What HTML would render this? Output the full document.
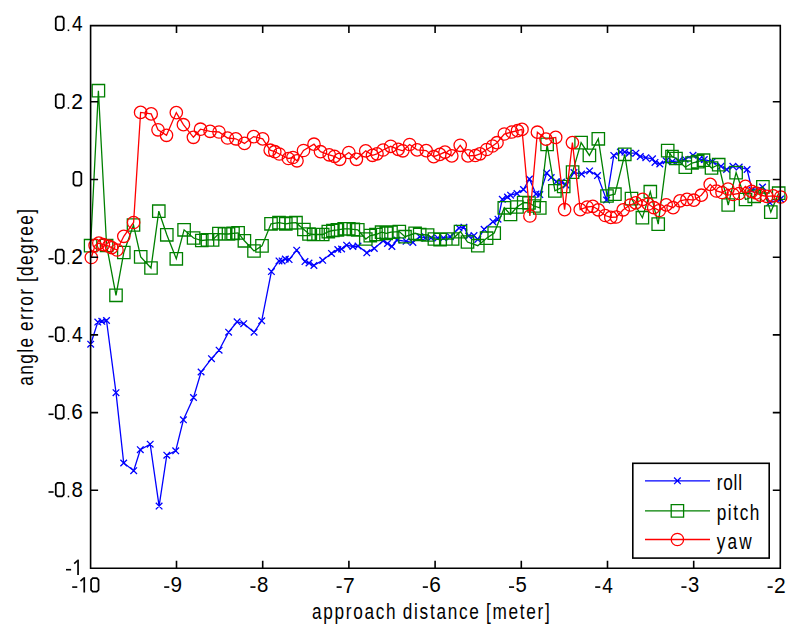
<!DOCTYPE html><html><head><meta charset="utf-8"><style>html,body{margin:0;padding:0;background:#fff;width:794px;height:633px;overflow:hidden}svg{position:absolute;left:0;top:0}text{font-family:"Liberation Sans",sans-serif;fill:#000}</style></head><body>
<svg width="794" height="633" viewBox="0 0 794 633">
<rect x="0" y="0" width="794" height="633" fill="#fff"/>
<polyline fill="none" stroke="#0000ff" stroke-width="1.30" stroke-linejoin="miter" points="90.7,344.2 97.8,322.1 101.8,321.3 106.5,320.5 116.0,392.7 123.7,463.0 133.7,470.7 140.3,449.7 150.2,444.2 159.1,506.1 166.8,455.2 175.7,450.8 183.4,419.8 193.5,397.5 201.1,372.0 211.5,358.7 219.1,350.2 228.6,332.2 237.1,321.8 243.7,323.7 254.1,332.2 261.7,320.8 271.4,271.6 279.0,260.9 282.1,260.9 285.3,259.0 289.1,259.6 296.7,250.2 305.0,261.6 309.0,263.0 313.9,265.4 322.7,260.3 331.5,253.4 337.8,249.5 341.6,249.0 346.6,245.2 352.9,246.5 358.0,246.0 366.8,252.8 374.3,248.4 383.1,240.8 387.5,243.5 391.9,246.5 397.0,240.0 406.1,241.3 412.9,242.4 419.7,236.7 425.4,237.9 431.0,237.9 437.8,237.9 443.5,237.9 450.3,236.7 459.0,228.0 463.9,227.2 468.6,236.0 474.0,235.6 477.8,239.4 484.1,229.3 492.9,221.7 498.0,219.2 502.3,199.3 507.5,197.0 510.6,195.2 517.0,193.5 523.5,189.5 529.4,179.0 536.0,194.0 539.8,194.6 546.7,173.0 551.2,177.6 556.5,181.7 561.5,182.0 566.0,185.0 574.0,172.5 581.6,174.0 589.6,170.9 597.5,175.6 606.6,200.0 613.8,155.4 620.4,152.1 624.8,152.1 629.2,153.2 635.9,153.2 640.3,156.5 645.8,157.7 652.5,158.8 655.0,162.4 659.8,164.0 666.1,160.8 672.4,161.6 678.8,160.8 685.1,159.2 693.0,155.3 699.3,159.2 704.3,159.6 712.4,161.6 721.0,166.3 726.6,169.5 732.9,166.3 739.2,167.1 747.1,169.5 752.0,190.0 762.5,187.0 769.7,202.6 780.5,199.0"/>
<path fill="none" stroke="#0000ff" stroke-width="1.30" d="M87.4 340.9L94.0 347.5M87.4 347.5L94.0 340.9M94.5 318.8L101.1 325.4M94.5 325.4L101.1 318.8M98.5 318.0L105.1 324.6M98.5 324.6L105.1 318.0M103.2 317.2L109.8 323.8M103.2 323.8L109.8 317.2M112.7 389.4L119.3 396.0M112.7 396.0L119.3 389.4M120.4 459.7L127.0 466.3M120.4 466.3L127.0 459.7M130.4 467.4L137.0 474.0M130.4 474.0L137.0 467.4M137.0 446.4L143.6 453.0M137.0 453.0L143.6 446.4M146.9 440.9L153.5 447.5M146.9 447.5L153.5 440.9M155.8 502.8L162.4 509.4M155.8 509.4L162.4 502.8M163.5 451.9L170.1 458.5M163.5 458.5L170.1 451.9M172.4 447.5L179.0 454.1M172.4 454.1L179.0 447.5M180.1 416.5L186.7 423.1M180.1 423.1L186.7 416.5M190.2 394.2L196.8 400.8M190.2 400.8L196.8 394.2M197.8 368.7L204.4 375.3M197.8 375.3L204.4 368.7M208.2 355.4L214.8 362.0M208.2 362.0L214.8 355.4M215.8 346.9L222.4 353.5M215.8 353.5L222.4 346.9M225.3 328.9L231.9 335.5M225.3 335.5L231.9 328.9M233.8 318.5L240.4 325.1M233.8 325.1L240.4 318.5M240.4 320.4L247.0 327.0M240.4 327.0L247.0 320.4M250.8 328.9L257.4 335.5M250.8 335.5L257.4 328.9M258.4 317.5L265.0 324.1M258.4 324.1L265.0 317.5M268.1 268.3L274.7 274.9M268.1 274.9L274.7 268.3M275.7 257.6L282.3 264.2M275.7 264.2L282.3 257.6M278.8 257.6L285.4 264.2M278.8 264.2L285.4 257.6M282.0 255.7L288.6 262.3M282.0 262.3L288.6 255.7M285.8 256.3L292.4 262.9M285.8 262.9L292.4 256.3M293.4 246.9L300.0 253.5M293.4 253.5L300.0 246.9M301.7 258.3L308.3 264.9M301.7 264.9L308.3 258.3M305.7 259.7L312.3 266.3M305.7 266.3L312.3 259.7M310.6 262.1L317.2 268.7M310.6 268.7L317.2 262.1M319.4 257.0L326.0 263.6M319.4 263.6L326.0 257.0M328.2 250.1L334.8 256.7M328.2 256.7L334.8 250.1M334.5 246.2L341.1 252.8M334.5 252.8L341.1 246.2M338.3 245.7L344.9 252.3M338.3 252.3L344.9 245.7M343.3 241.9L349.9 248.5M343.3 248.5L349.9 241.9M349.6 243.2L356.2 249.8M349.6 249.8L356.2 243.2M354.7 242.7L361.3 249.3M354.7 249.3L361.3 242.7M363.5 249.5L370.1 256.1M363.5 256.1L370.1 249.5M371.0 245.1L377.6 251.7M371.0 251.7L377.6 245.1M379.8 237.5L386.4 244.1M379.8 244.1L386.4 237.5M384.2 240.2L390.8 246.8M384.2 246.8L390.8 240.2M388.6 243.2L395.2 249.8M388.6 249.8L395.2 243.2M393.7 236.7L400.3 243.3M393.7 243.3L400.3 236.7M402.8 238.0L409.4 244.6M402.8 244.6L409.4 238.0M409.6 239.1L416.2 245.7M409.6 245.7L416.2 239.1M416.4 233.4L423.0 240.0M416.4 240.0L423.0 233.4M422.1 234.6L428.7 241.2M422.1 241.2L428.7 234.6M427.7 234.6L434.3 241.2M427.7 241.2L434.3 234.6M434.5 234.6L441.1 241.2M434.5 241.2L441.1 234.6M440.2 234.6L446.8 241.2M440.2 241.2L446.8 234.6M447.0 233.4L453.6 240.0M447.0 240.0L453.6 233.4M455.7 224.7L462.3 231.3M455.7 231.3L462.3 224.7M460.6 223.9L467.2 230.5M460.6 230.5L467.2 223.9M465.3 232.7L471.9 239.3M465.3 239.3L471.9 232.7M470.7 232.3L477.3 238.9M470.7 238.9L477.3 232.3M474.5 236.1L481.1 242.7M474.5 242.7L481.1 236.1M480.8 226.0L487.4 232.6M480.8 232.6L487.4 226.0M489.6 218.4L496.2 225.0M489.6 225.0L496.2 218.4M494.7 215.9L501.3 222.5M494.7 222.5L501.3 215.9M499.0 196.0L505.6 202.6M499.0 202.6L505.6 196.0M504.2 193.7L510.8 200.3M504.2 200.3L510.8 193.7M507.3 191.9L513.9 198.5M507.3 198.5L513.9 191.9M513.7 190.2L520.3 196.8M513.7 196.8L520.3 190.2M520.2 186.2L526.8 192.8M520.2 192.8L526.8 186.2M526.1 175.7L532.7 182.3M526.1 182.3L532.7 175.7M532.7 190.7L539.3 197.3M532.7 197.3L539.3 190.7M536.5 191.3L543.1 197.9M536.5 197.9L543.1 191.3M543.4 169.7L550.0 176.3M543.4 176.3L550.0 169.7M547.9 174.3L554.5 180.9M547.9 180.9L554.5 174.3M553.2 178.4L559.8 185.0M553.2 185.0L559.8 178.4M558.2 178.7L564.8 185.3M558.2 185.3L564.8 178.7M562.7 181.7L569.3 188.3M562.7 188.3L569.3 181.7M570.7 169.2L577.3 175.8M570.7 175.8L577.3 169.2M578.3 170.7L584.9 177.3M578.3 177.3L584.9 170.7M586.3 167.6L592.9 174.2M586.3 174.2L592.9 167.6M594.2 172.3L600.8 178.9M594.2 178.9L600.8 172.3M603.3 196.7L609.9 203.3M603.3 203.3L609.9 196.7M610.5 152.1L617.1 158.7M610.5 158.7L617.1 152.1M617.1 148.8L623.7 155.4M617.1 155.4L623.7 148.8M621.5 148.8L628.1 155.4M621.5 155.4L628.1 148.8M625.9 149.9L632.5 156.5M625.9 156.5L632.5 149.9M632.6 149.9L639.2 156.5M632.6 156.5L639.2 149.9M637.0 153.2L643.6 159.8M637.0 159.8L643.6 153.2M642.5 154.4L649.1 161.0M642.5 161.0L649.1 154.4M649.2 155.5L655.8 162.1M649.2 162.1L655.8 155.5M651.7 159.1L658.3 165.7M651.7 165.7L658.3 159.1M656.5 160.7L663.1 167.3M656.5 167.3L663.1 160.7M662.8 157.5L669.4 164.1M662.8 164.1L669.4 157.5M669.1 158.3L675.7 164.9M669.1 164.9L675.7 158.3M675.5 157.5L682.1 164.1M675.5 164.1L682.1 157.5M681.8 155.9L688.4 162.5M681.8 162.5L688.4 155.9M689.7 152.0L696.3 158.6M689.7 158.6L696.3 152.0M696.0 155.9L702.6 162.5M696.0 162.5L702.6 155.9M701.0 156.3L707.6 162.9M701.0 162.9L707.6 156.3M709.1 158.3L715.7 164.9M709.1 164.9L715.7 158.3M717.7 163.0L724.3 169.6M717.7 169.6L724.3 163.0M723.3 166.2L729.9 172.8M723.3 172.8L729.9 166.2M729.6 163.0L736.2 169.6M729.6 169.6L736.2 163.0M735.9 163.8L742.5 170.4M735.9 170.4L742.5 163.8M743.8 166.2L750.4 172.8M743.8 172.8L750.4 166.2M748.7 186.7L755.3 193.3M748.7 193.3L755.3 186.7M759.2 183.7L765.8 190.3M759.2 190.3L765.8 183.7M766.4 199.3L773.0 205.9M766.4 205.9L773.0 199.3M777.2 195.7L783.8 202.3M777.2 202.3L783.8 195.7"/>
<polyline fill="none" stroke="#008000" stroke-width="1.30" stroke-linejoin="miter" points="90.6,245.7 98.4,90.7 106.6,245.5 116.0,295.3 123.8,252.5 133.5,225.0 140.7,256.9 151.0,268.0 158.8,211.2 166.8,234.8 176.3,258.8 184.1,229.8 193.6,238.0 201.8,240.5 207.5,239.9 212.6,239.9 218.9,233.6 224.5,234.0 228.5,234.0 233.0,233.4 238.1,232.9 244.4,240.8 254.0,251.0 262.0,245.9 271.0,223.8 279.0,222.7 285.8,223.8 291.0,223.0 296.0,222.7 303.9,229.5 309.0,234.0 313.6,234.5 318.1,234.5 322.7,234.5 328.3,231.6 332.9,230.5 337.4,229.9 344.2,228.8 348.8,228.8 353.3,229.4 357.8,229.9 365.8,239.0 370.3,235.6 376.0,234.5 381.6,232.2 386.2,233.3 391.0,232.2 399.3,231.6 405.0,236.7 415.1,233.3 419.7,234.5 427.6,235.0 434.4,239.0 440.1,239.6 445.8,239.0 452.6,239.0 460.5,231.6 467.5,242.0 477.8,245.7 486.6,238.2 494.2,233.1 504.3,207.8 510.5,214.5 517.0,207.0 523.7,202.5 529.0,203.0 534.1,206.0 539.8,207.9 547.1,144.4 554.9,190.9 563.7,186.5 572.6,172.1 581.1,142.6 589.4,155.4 598.3,138.8 607.0,196.0 614.9,194.2 624.8,154.3 631.5,198.6 642.4,217.7 650.3,191.7 658.2,224.1 667.7,150.6 672.0,156.5 676.0,158.5 685.3,167.2 692.0,163.0 697.7,161.6 703.5,160.2 711.5,168.0 718.7,164.7 728.2,205.0 736.1,172.6 745.5,199.5 754.2,196.3 762.9,186.8 770.8,212.1 778.7,193.2"/>
<path fill="none" stroke="#008000" stroke-width="1.30" d="M84.4 239.5h12.4v12.4h-12.4zM92.2 84.5h12.4v12.4h-12.4zM100.4 239.3h12.4v12.4h-12.4zM109.8 289.1h12.4v12.4h-12.4zM117.6 246.3h12.4v12.4h-12.4zM127.3 218.8h12.4v12.4h-12.4zM134.5 250.7h12.4v12.4h-12.4zM144.8 261.8h12.4v12.4h-12.4zM152.6 205.0h12.4v12.4h-12.4zM160.6 228.6h12.4v12.4h-12.4zM170.1 252.6h12.4v12.4h-12.4zM177.9 223.6h12.4v12.4h-12.4zM187.4 231.8h12.4v12.4h-12.4zM195.6 234.3h12.4v12.4h-12.4zM201.3 233.7h12.4v12.4h-12.4zM206.4 233.7h12.4v12.4h-12.4zM212.7 227.4h12.4v12.4h-12.4zM218.3 227.8h12.4v12.4h-12.4zM222.3 227.8h12.4v12.4h-12.4zM226.8 227.2h12.4v12.4h-12.4zM231.9 226.7h12.4v12.4h-12.4zM238.2 234.6h12.4v12.4h-12.4zM247.8 244.8h12.4v12.4h-12.4zM255.8 239.7h12.4v12.4h-12.4zM264.8 217.6h12.4v12.4h-12.4zM272.8 216.5h12.4v12.4h-12.4zM279.6 217.6h12.4v12.4h-12.4zM284.8 216.8h12.4v12.4h-12.4zM289.8 216.5h12.4v12.4h-12.4zM297.7 223.3h12.4v12.4h-12.4zM302.8 227.8h12.4v12.4h-12.4zM307.4 228.3h12.4v12.4h-12.4zM311.9 228.3h12.4v12.4h-12.4zM316.5 228.3h12.4v12.4h-12.4zM322.1 225.4h12.4v12.4h-12.4zM326.7 224.3h12.4v12.4h-12.4zM331.2 223.7h12.4v12.4h-12.4zM338.0 222.6h12.4v12.4h-12.4zM342.6 222.6h12.4v12.4h-12.4zM347.1 223.2h12.4v12.4h-12.4zM351.6 223.7h12.4v12.4h-12.4zM359.6 232.8h12.4v12.4h-12.4zM364.1 229.4h12.4v12.4h-12.4zM369.8 228.3h12.4v12.4h-12.4zM375.4 226.0h12.4v12.4h-12.4zM380.0 227.1h12.4v12.4h-12.4zM384.8 226.0h12.4v12.4h-12.4zM393.1 225.4h12.4v12.4h-12.4zM398.8 230.5h12.4v12.4h-12.4zM408.9 227.1h12.4v12.4h-12.4zM413.5 228.3h12.4v12.4h-12.4zM421.4 228.8h12.4v12.4h-12.4zM428.2 232.8h12.4v12.4h-12.4zM433.9 233.4h12.4v12.4h-12.4zM439.6 232.8h12.4v12.4h-12.4zM446.4 232.8h12.4v12.4h-12.4zM454.3 225.4h12.4v12.4h-12.4zM461.3 235.8h12.4v12.4h-12.4zM471.6 239.5h12.4v12.4h-12.4zM480.4 232.0h12.4v12.4h-12.4zM488.0 226.9h12.4v12.4h-12.4zM498.1 201.6h12.4v12.4h-12.4zM504.3 208.3h12.4v12.4h-12.4zM510.8 200.8h12.4v12.4h-12.4zM517.5 196.3h12.4v12.4h-12.4zM522.8 196.8h12.4v12.4h-12.4zM527.9 199.8h12.4v12.4h-12.4zM533.6 201.7h12.4v12.4h-12.4zM540.9 138.2h12.4v12.4h-12.4zM548.7 184.7h12.4v12.4h-12.4zM557.5 180.3h12.4v12.4h-12.4zM566.4 165.9h12.4v12.4h-12.4zM574.9 136.4h12.4v12.4h-12.4zM583.2 149.2h12.4v12.4h-12.4zM592.1 132.6h12.4v12.4h-12.4zM600.8 189.8h12.4v12.4h-12.4zM608.7 188.0h12.4v12.4h-12.4zM618.6 148.1h12.4v12.4h-12.4zM625.3 192.4h12.4v12.4h-12.4zM636.2 211.5h12.4v12.4h-12.4zM644.1 185.5h12.4v12.4h-12.4zM652.0 217.9h12.4v12.4h-12.4zM661.5 144.4h12.4v12.4h-12.4zM665.8 150.3h12.4v12.4h-12.4zM669.8 152.3h12.4v12.4h-12.4zM679.1 161.0h12.4v12.4h-12.4zM685.8 156.8h12.4v12.4h-12.4zM691.5 155.4h12.4v12.4h-12.4zM697.3 154.0h12.4v12.4h-12.4zM705.3 161.8h12.4v12.4h-12.4zM712.5 158.5h12.4v12.4h-12.4zM722.0 198.8h12.4v12.4h-12.4zM729.9 166.4h12.4v12.4h-12.4zM739.3 193.3h12.4v12.4h-12.4zM748.0 190.1h12.4v12.4h-12.4zM756.7 180.6h12.4v12.4h-12.4zM764.6 205.9h12.4v12.4h-12.4zM772.5 187.0h12.4v12.4h-12.4z"/>
<polyline fill="none" stroke="#ff0000" stroke-width="1.30" stroke-linejoin="miter" points="91.3,257.5 95.1,245.4 98.8,243.1 103.4,244.7 108.7,246.2 111.7,247.7 117.0,250.0 123.8,236.3 133.6,222.5 140.6,112.4 151.2,113.9 158.0,129.8 166.5,135.3 176.3,112.6 183.4,124.7 193.4,137.3 200.5,129.2 210.1,131.3 219.0,132.0 227.5,138.0 235.8,138.8 244.5,143.4 253.6,136.6 262.7,138.9 270.2,150.2 274.8,151.7 279.3,154.0 288.4,158.5 292.9,157.5 297.0,160.8 303.5,150.5 314.0,144.2 320.5,151.7 329.2,154.8 334.5,156.3 339.7,159.3 348.8,152.5 356.4,159.3 365.7,150.8 372.5,155.3 377.0,153.8 383.1,150.0 390.7,146.3 398.2,149.3 402.8,150.8 409.6,144.5 417.1,149.9 426.2,150.6 433.7,156.7 439.8,154.4 445.0,152.1 451.8,155.9 460.2,145.3 468.0,155.9 475.3,155.5 480.0,153.8 486.7,149.5 492.5,146.0 497.0,142.7 504.3,134.0 511.9,132.0 517.5,130.7 522.0,129.4 529.9,216.0 537.4,132.2 546.0,139.1 555.7,137.4 564.6,209.6 572.4,142.6 580.2,209.6 587.2,207.0 592.8,206.3 598.3,209.8 605.2,215.5 610.8,217.4 616.3,217.0 623.2,209.8 630.2,205.0 635.7,202.9 642.6,199.4 648.2,204.0 653.7,207.7 659.3,210.5 666.2,204.9 673.1,207.7 680.0,200.8 687.0,199.4 693.8,200.2 701.3,195.2 710.2,184.4 716.4,191.0 722.0,192.5 728.0,189.0 733.0,194.5 739.1,193.5 745.4,186.3 751.7,191.4 756.0,193.0 760.5,195.2 766.8,196.4 773.1,195.8 780.7,197.0"/>
<path fill="none" stroke="#ff0000" stroke-width="1.30" d="M85.1 257.5a6.2 6.2 0 1 0 12.4 0a6.2 6.2 0 1 0 -12.4 0zM88.9 245.4a6.2 6.2 0 1 0 12.4 0a6.2 6.2 0 1 0 -12.4 0zM92.6 243.1a6.2 6.2 0 1 0 12.4 0a6.2 6.2 0 1 0 -12.4 0zM97.2 244.7a6.2 6.2 0 1 0 12.4 0a6.2 6.2 0 1 0 -12.4 0zM102.5 246.2a6.2 6.2 0 1 0 12.4 0a6.2 6.2 0 1 0 -12.4 0zM105.5 247.7a6.2 6.2 0 1 0 12.4 0a6.2 6.2 0 1 0 -12.4 0zM110.8 250.0a6.2 6.2 0 1 0 12.4 0a6.2 6.2 0 1 0 -12.4 0zM117.6 236.3a6.2 6.2 0 1 0 12.4 0a6.2 6.2 0 1 0 -12.4 0zM127.4 222.5a6.2 6.2 0 1 0 12.4 0a6.2 6.2 0 1 0 -12.4 0zM134.4 112.4a6.2 6.2 0 1 0 12.4 0a6.2 6.2 0 1 0 -12.4 0zM145.0 113.9a6.2 6.2 0 1 0 12.4 0a6.2 6.2 0 1 0 -12.4 0zM151.8 129.8a6.2 6.2 0 1 0 12.4 0a6.2 6.2 0 1 0 -12.4 0zM160.3 135.3a6.2 6.2 0 1 0 12.4 0a6.2 6.2 0 1 0 -12.4 0zM170.1 112.6a6.2 6.2 0 1 0 12.4 0a6.2 6.2 0 1 0 -12.4 0zM177.2 124.7a6.2 6.2 0 1 0 12.4 0a6.2 6.2 0 1 0 -12.4 0zM187.2 137.3a6.2 6.2 0 1 0 12.4 0a6.2 6.2 0 1 0 -12.4 0zM194.3 129.2a6.2 6.2 0 1 0 12.4 0a6.2 6.2 0 1 0 -12.4 0zM203.9 131.3a6.2 6.2 0 1 0 12.4 0a6.2 6.2 0 1 0 -12.4 0zM212.8 132.0a6.2 6.2 0 1 0 12.4 0a6.2 6.2 0 1 0 -12.4 0zM221.3 138.0a6.2 6.2 0 1 0 12.4 0a6.2 6.2 0 1 0 -12.4 0zM229.6 138.8a6.2 6.2 0 1 0 12.4 0a6.2 6.2 0 1 0 -12.4 0zM238.3 143.4a6.2 6.2 0 1 0 12.4 0a6.2 6.2 0 1 0 -12.4 0zM247.4 136.6a6.2 6.2 0 1 0 12.4 0a6.2 6.2 0 1 0 -12.4 0zM256.5 138.9a6.2 6.2 0 1 0 12.4 0a6.2 6.2 0 1 0 -12.4 0zM264.0 150.2a6.2 6.2 0 1 0 12.4 0a6.2 6.2 0 1 0 -12.4 0zM268.6 151.7a6.2 6.2 0 1 0 12.4 0a6.2 6.2 0 1 0 -12.4 0zM273.1 154.0a6.2 6.2 0 1 0 12.4 0a6.2 6.2 0 1 0 -12.4 0zM282.2 158.5a6.2 6.2 0 1 0 12.4 0a6.2 6.2 0 1 0 -12.4 0zM286.7 157.5a6.2 6.2 0 1 0 12.4 0a6.2 6.2 0 1 0 -12.4 0zM290.8 160.8a6.2 6.2 0 1 0 12.4 0a6.2 6.2 0 1 0 -12.4 0zM297.3 150.5a6.2 6.2 0 1 0 12.4 0a6.2 6.2 0 1 0 -12.4 0zM307.8 144.2a6.2 6.2 0 1 0 12.4 0a6.2 6.2 0 1 0 -12.4 0zM314.3 151.7a6.2 6.2 0 1 0 12.4 0a6.2 6.2 0 1 0 -12.4 0zM323.0 154.8a6.2 6.2 0 1 0 12.4 0a6.2 6.2 0 1 0 -12.4 0zM328.3 156.3a6.2 6.2 0 1 0 12.4 0a6.2 6.2 0 1 0 -12.4 0zM333.5 159.3a6.2 6.2 0 1 0 12.4 0a6.2 6.2 0 1 0 -12.4 0zM342.6 152.5a6.2 6.2 0 1 0 12.4 0a6.2 6.2 0 1 0 -12.4 0zM350.2 159.3a6.2 6.2 0 1 0 12.4 0a6.2 6.2 0 1 0 -12.4 0zM359.5 150.8a6.2 6.2 0 1 0 12.4 0a6.2 6.2 0 1 0 -12.4 0zM366.3 155.3a6.2 6.2 0 1 0 12.4 0a6.2 6.2 0 1 0 -12.4 0zM370.8 153.8a6.2 6.2 0 1 0 12.4 0a6.2 6.2 0 1 0 -12.4 0zM376.9 150.0a6.2 6.2 0 1 0 12.4 0a6.2 6.2 0 1 0 -12.4 0zM384.5 146.3a6.2 6.2 0 1 0 12.4 0a6.2 6.2 0 1 0 -12.4 0zM392.0 149.3a6.2 6.2 0 1 0 12.4 0a6.2 6.2 0 1 0 -12.4 0zM396.6 150.8a6.2 6.2 0 1 0 12.4 0a6.2 6.2 0 1 0 -12.4 0zM403.4 144.5a6.2 6.2 0 1 0 12.4 0a6.2 6.2 0 1 0 -12.4 0zM410.9 149.9a6.2 6.2 0 1 0 12.4 0a6.2 6.2 0 1 0 -12.4 0zM420.0 150.6a6.2 6.2 0 1 0 12.4 0a6.2 6.2 0 1 0 -12.4 0zM427.5 156.7a6.2 6.2 0 1 0 12.4 0a6.2 6.2 0 1 0 -12.4 0zM433.6 154.4a6.2 6.2 0 1 0 12.4 0a6.2 6.2 0 1 0 -12.4 0zM438.8 152.1a6.2 6.2 0 1 0 12.4 0a6.2 6.2 0 1 0 -12.4 0zM445.6 155.9a6.2 6.2 0 1 0 12.4 0a6.2 6.2 0 1 0 -12.4 0zM454.0 145.3a6.2 6.2 0 1 0 12.4 0a6.2 6.2 0 1 0 -12.4 0zM461.8 155.9a6.2 6.2 0 1 0 12.4 0a6.2 6.2 0 1 0 -12.4 0zM469.1 155.5a6.2 6.2 0 1 0 12.4 0a6.2 6.2 0 1 0 -12.4 0zM473.8 153.8a6.2 6.2 0 1 0 12.4 0a6.2 6.2 0 1 0 -12.4 0zM480.5 149.5a6.2 6.2 0 1 0 12.4 0a6.2 6.2 0 1 0 -12.4 0zM486.3 146.0a6.2 6.2 0 1 0 12.4 0a6.2 6.2 0 1 0 -12.4 0zM490.8 142.7a6.2 6.2 0 1 0 12.4 0a6.2 6.2 0 1 0 -12.4 0zM498.1 134.0a6.2 6.2 0 1 0 12.4 0a6.2 6.2 0 1 0 -12.4 0zM505.7 132.0a6.2 6.2 0 1 0 12.4 0a6.2 6.2 0 1 0 -12.4 0zM511.3 130.7a6.2 6.2 0 1 0 12.4 0a6.2 6.2 0 1 0 -12.4 0zM515.8 129.4a6.2 6.2 0 1 0 12.4 0a6.2 6.2 0 1 0 -12.4 0zM523.7 216.0a6.2 6.2 0 1 0 12.4 0a6.2 6.2 0 1 0 -12.4 0zM531.2 132.2a6.2 6.2 0 1 0 12.4 0a6.2 6.2 0 1 0 -12.4 0zM539.8 139.1a6.2 6.2 0 1 0 12.4 0a6.2 6.2 0 1 0 -12.4 0zM549.5 137.4a6.2 6.2 0 1 0 12.4 0a6.2 6.2 0 1 0 -12.4 0zM558.4 209.6a6.2 6.2 0 1 0 12.4 0a6.2 6.2 0 1 0 -12.4 0zM566.2 142.6a6.2 6.2 0 1 0 12.4 0a6.2 6.2 0 1 0 -12.4 0zM574.0 209.6a6.2 6.2 0 1 0 12.4 0a6.2 6.2 0 1 0 -12.4 0zM581.0 207.0a6.2 6.2 0 1 0 12.4 0a6.2 6.2 0 1 0 -12.4 0zM586.6 206.3a6.2 6.2 0 1 0 12.4 0a6.2 6.2 0 1 0 -12.4 0zM592.1 209.8a6.2 6.2 0 1 0 12.4 0a6.2 6.2 0 1 0 -12.4 0zM599.0 215.5a6.2 6.2 0 1 0 12.4 0a6.2 6.2 0 1 0 -12.4 0zM604.6 217.4a6.2 6.2 0 1 0 12.4 0a6.2 6.2 0 1 0 -12.4 0zM610.1 217.0a6.2 6.2 0 1 0 12.4 0a6.2 6.2 0 1 0 -12.4 0zM617.0 209.8a6.2 6.2 0 1 0 12.4 0a6.2 6.2 0 1 0 -12.4 0zM624.0 205.0a6.2 6.2 0 1 0 12.4 0a6.2 6.2 0 1 0 -12.4 0zM629.5 202.9a6.2 6.2 0 1 0 12.4 0a6.2 6.2 0 1 0 -12.4 0zM636.4 199.4a6.2 6.2 0 1 0 12.4 0a6.2 6.2 0 1 0 -12.4 0zM642.0 204.0a6.2 6.2 0 1 0 12.4 0a6.2 6.2 0 1 0 -12.4 0zM647.5 207.7a6.2 6.2 0 1 0 12.4 0a6.2 6.2 0 1 0 -12.4 0zM653.1 210.5a6.2 6.2 0 1 0 12.4 0a6.2 6.2 0 1 0 -12.4 0zM660.0 204.9a6.2 6.2 0 1 0 12.4 0a6.2 6.2 0 1 0 -12.4 0zM666.9 207.7a6.2 6.2 0 1 0 12.4 0a6.2 6.2 0 1 0 -12.4 0zM673.8 200.8a6.2 6.2 0 1 0 12.4 0a6.2 6.2 0 1 0 -12.4 0zM680.8 199.4a6.2 6.2 0 1 0 12.4 0a6.2 6.2 0 1 0 -12.4 0zM687.6 200.2a6.2 6.2 0 1 0 12.4 0a6.2 6.2 0 1 0 -12.4 0zM695.1 195.2a6.2 6.2 0 1 0 12.4 0a6.2 6.2 0 1 0 -12.4 0zM704.0 184.4a6.2 6.2 0 1 0 12.4 0a6.2 6.2 0 1 0 -12.4 0zM710.2 191.0a6.2 6.2 0 1 0 12.4 0a6.2 6.2 0 1 0 -12.4 0zM715.8 192.5a6.2 6.2 0 1 0 12.4 0a6.2 6.2 0 1 0 -12.4 0zM721.8 189.0a6.2 6.2 0 1 0 12.4 0a6.2 6.2 0 1 0 -12.4 0zM726.8 194.5a6.2 6.2 0 1 0 12.4 0a6.2 6.2 0 1 0 -12.4 0zM732.9 193.5a6.2 6.2 0 1 0 12.4 0a6.2 6.2 0 1 0 -12.4 0zM739.2 186.3a6.2 6.2 0 1 0 12.4 0a6.2 6.2 0 1 0 -12.4 0zM745.5 191.4a6.2 6.2 0 1 0 12.4 0a6.2 6.2 0 1 0 -12.4 0zM749.8 193.0a6.2 6.2 0 1 0 12.4 0a6.2 6.2 0 1 0 -12.4 0zM754.3 195.2a6.2 6.2 0 1 0 12.4 0a6.2 6.2 0 1 0 -12.4 0zM760.6 196.4a6.2 6.2 0 1 0 12.4 0a6.2 6.2 0 1 0 -12.4 0zM766.9 195.8a6.2 6.2 0 1 0 12.4 0a6.2 6.2 0 1 0 -12.4 0zM774.5 197.0a6.2 6.2 0 1 0 12.4 0a6.2 6.2 0 1 0 -12.4 0z"/>
<path fill="none" stroke="#000" stroke-width="1.6" d="M90.6 25.6H780.3V568.2H90.6ZM176.5 568.2V560.7M176.5 25.6V33.1M262.7 568.2V560.7M262.7 25.6V33.1M348.9 568.2V560.7M348.9 25.6V33.1M435.1 568.2V560.7M435.1 25.6V33.1M521.3 568.2V560.7M521.3 25.6V33.1M607.5 568.2V560.7M607.5 25.6V33.1M693.7 568.2V560.7M693.7 25.6V33.1M90.6 101.8H98.1M780.3 101.8H772.8M90.6 179.5H98.1M780.3 179.5H772.8M90.6 257.2H98.1M780.3 257.2H772.8M90.6 334.9H98.1M780.3 334.9H772.8M90.6 412.6H98.1M780.3 412.6H772.8M90.6 490.3H98.1M780.3 490.3H772.8"/>
<rect x="632.8" y="463.3" width="136.4" height="94.8" fill="#fff" stroke="#000" stroke-width="1.6"/>
<path fill="none" stroke="#0000ff" stroke-width="1.30" d="M645 480.8H710M674.1 477.5L680.7 484.1M674.1 484.1L680.7 477.5"/>
<path fill="none" stroke="#008000" stroke-width="1.30" d="M645 510.9H710M671.2 504.7h12.4v12.4h-12.4z"/>
<path fill="none" stroke="#ff0000" stroke-width="1.30" d="M645 539.5H710M671.2 539.5a6.2 6.2 0 1 0 12.4 0a6.2 6.2 0 1 0 -12.4 0z"/>
<text x="0" y="0" font-size="21.5" text-anchor="start" transform="translate(716.7 490.3) scale(0.800 1)" letter-spacing="1.00">roll</text>
<text x="0" y="0" font-size="21.5" text-anchor="start" transform="translate(716.7 520.4) scale(0.800 1)" letter-spacing="2.00">pitch</text>
<text x="0" y="0" font-size="21.5" text-anchor="start" transform="translate(716.7 549.0) scale(0.800 1)" letter-spacing="2.80">yaw</text>
<text x="0" y="0" font-size="1000" transform="matrix(0.01905 0 0 0.02238 71.96 31.10)">4</text>
<rect x="67.70" y="29.50" width="1.5" height="1.6" fill="#000"/>
<path d="M57.48 16.57H62.02L63.72 18.27V28.52L62.02 30.22H57.48L55.77 28.52V18.27Z" fill="none" stroke="#000" stroke-width="1.75"/>
<text x="0" y="0" font-size="1000" transform="matrix(0.02105 0 0 0.02206 71.35 108.80)">2</text>
<rect x="67.70" y="107.20" width="1.5" height="1.6" fill="#000"/>
<path d="M57.48 94.27H62.02L63.72 95.97V106.22L62.02 107.92H57.48L55.77 106.22V95.97Z" fill="none" stroke="#000" stroke-width="1.75"/>
<path d="M75.17 171.98H79.62L81.33 173.68V183.93L79.62 185.62H75.17L73.47 183.93V173.68Z" fill="none" stroke="#000" stroke-width="1.75"/>
<text x="0" y="0" font-size="1000" transform="matrix(0.02105 0 0 0.02206 71.35 264.20)">2</text>
<rect x="67.70" y="262.60" width="1.5" height="1.6" fill="#000"/>
<path d="M57.48 249.68H62.02L63.72 251.38V261.62L62.02 263.32H57.48L55.77 261.62V251.38Z" fill="none" stroke="#000" stroke-width="1.75"/>
<rect x="48.50" y="258.10" width="5.1" height="1.6" fill="#000"/>
<text x="0" y="0" font-size="1000" transform="matrix(0.01905 0 0 0.02238 71.96 341.90)">4</text>
<rect x="67.70" y="340.30" width="1.5" height="1.6" fill="#000"/>
<path d="M57.48 327.38H62.02L63.72 329.07V339.32L62.02 341.02H57.48L55.77 339.32V329.07Z" fill="none" stroke="#000" stroke-width="1.75"/>
<rect x="48.50" y="335.80" width="5.1" height="1.6" fill="#000"/>
<text x="0" y="0" font-size="1000" transform="matrix(0.02082 0 0 0.02175 71.34 419.38)">6</text>
<rect x="67.70" y="418.00" width="1.5" height="1.6" fill="#000"/>
<path d="M57.48 405.08H62.02L63.72 406.78V417.03L62.02 418.73H57.48L55.77 417.03V406.78Z" fill="none" stroke="#000" stroke-width="1.75"/>
<rect x="48.50" y="413.50" width="5.1" height="1.6" fill="#000"/>
<text x="0" y="0" font-size="1000" transform="matrix(0.02043 0 0 0.02175 71.52 497.08)">8</text>
<rect x="67.70" y="495.70" width="1.5" height="1.6" fill="#000"/>
<path d="M57.48 482.78H62.02L63.72 484.48V494.73L62.02 496.43H57.48L55.77 494.73V484.48Z" fill="none" stroke="#000" stroke-width="1.75"/>
<rect x="48.50" y="491.20" width="5.1" height="1.6" fill="#000"/>
<rect x="77.20" y="559.60" width="1.7" height="15.40" fill="#000"/><path d="M74.20 563.60L77.60 560.50" stroke="#000" stroke-width="1.6" fill="none"/>
<rect x="66.00" y="568.90" width="5.1" height="1.6" fill="#000"/>
<rect x="72.20" y="586.30" width="5.1" height="1.6" fill="#000"/>
<rect x="83.40" y="577.20" width="1.7" height="15.30" fill="#000"/><path d="M80.40 581.20L83.80 578.10" stroke="#000" stroke-width="1.6" fill="none"/>
<path d="M92.78 578.08H96.83L98.53 579.78V589.92L96.83 591.62H92.78L91.08 589.92V579.78Z" fill="none" stroke="#000" stroke-width="1.75"/>
<rect x="164.20" y="586.30" width="5.1" height="1.6" fill="#000"/>
<text x="0" y="0" font-size="1000" transform="matrix(0.02078 0 0 0.02161 170.62 592.28)">9</text>
<rect x="250.40" y="586.30" width="5.1" height="1.6" fill="#000"/>
<text x="0" y="0" font-size="1000" transform="matrix(0.02043 0 0 0.02161 256.92 592.28)">8</text>
<rect x="336.60" y="586.30" width="5.1" height="1.6" fill="#000"/>
<text x="0" y="0" font-size="1000" transform="matrix(0.02110 0 0 0.02224 342.92 592.50)">7</text>
<rect x="422.80" y="586.30" width="5.1" height="1.6" fill="#000"/>
<text x="0" y="0" font-size="1000" transform="matrix(0.02082 0 0 0.02161 429.14 592.28)">6</text>
<rect x="509.00" y="586.30" width="5.1" height="1.6" fill="#000"/>
<text x="0" y="0" font-size="1000" transform="matrix(0.02025 0 0 0.02192 515.59 592.28)">5</text>
<rect x="595.20" y="586.30" width="5.1" height="1.6" fill="#000"/>
<text x="0" y="0" font-size="1000" transform="matrix(0.01905 0 0 0.02224 602.16 592.50)">4</text>
<rect x="681.40" y="586.30" width="5.1" height="1.6" fill="#000"/>
<text x="0" y="0" font-size="1000" transform="matrix(0.02025 0 0 0.02161 688.03 592.28)">3</text>
<rect x="767.60" y="586.30" width="5.1" height="1.6" fill="#000"/>
<text x="0" y="0" font-size="1000" transform="matrix(0.02105 0 0 0.02192 773.95 592.50)">2</text>
<text x="0" y="0" font-size="21.5" text-anchor="middle" transform="translate(431.7 619.2) scale(0.800 1)" word-spacing="-1.00" letter-spacing="2.12">approach distance [meter]</text>
<text x="0" y="0" font-size="21.5" text-anchor="middle" word-spacing="-1.00" letter-spacing="1.80" transform="translate(32.7 296.6) rotate(-90) scale(0.800 1)">angle error [degree]</text>
</svg></body></html>
